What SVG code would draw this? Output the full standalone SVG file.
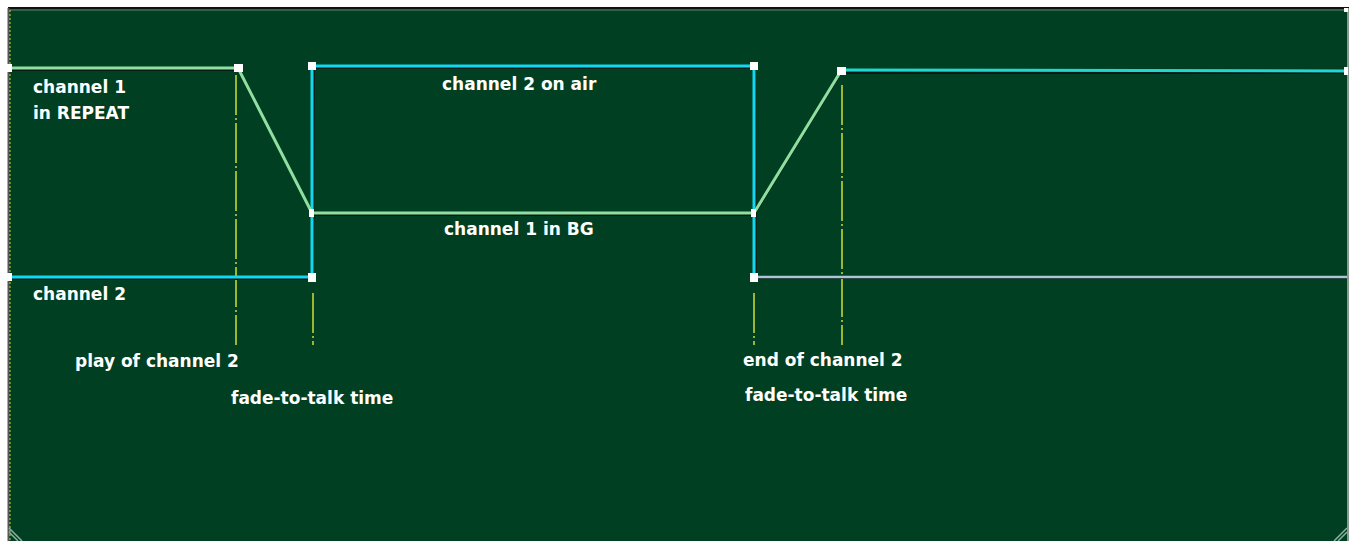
<svg xmlns="http://www.w3.org/2000/svg" width="1357" height="541" viewBox="0 0 1357 541">
<style>
.lbl{font-family:"DejaVu Sans","Liberation Sans",sans-serif;font-weight:bold;font-size:17px;fill:#ffffff}
.c1{fill:none;stroke:#8fe0a0;stroke-width:3}
.c2{fill:none;stroke:#10d8f0;stroke-width:3}
.sh{fill:none;stroke:#0a1a14;stroke-width:2}
.mark{stroke:#d0e030;stroke-width:1.5;stroke-dasharray:40,3,2,3}
.nd{fill:#ffffff}
</style>
<rect x="0" y="0" width="1357" height="541" fill="#ffffff"/>
<rect x="8" y="8" width="1341" height="533" fill="#003f22"/>
<line x1="8" y1="8" x2="1349" y2="8" stroke="#111" stroke-width="2"/>
<line x1="8" y1="10" x2="1347" y2="10" stroke="#5a8a70" stroke-width="1"/>
<line x1="8.5" y1="8" x2="8.5" y2="541" stroke="#555" stroke-width="2"/>
<line x1="10" y1="10" x2="10" y2="541" stroke="#c8dc30" stroke-width="1" stroke-dasharray="2,2"/>
<line x1="1348" y1="8" x2="1348" y2="541" stroke="#8a9a90" stroke-width="2"/>
<path d="M9,528 L22,541 M9,532 L18,541" stroke="#8ab0a0" stroke-width="1.5"/>
<path d="M1347,528 L1334,541 M1347,532 L1338,541" stroke="#8ab0a0" stroke-width="1.5"/>
<g id="connectors">
<g id="markers">
<line class="mark" x1="236" y1="75" x2="236" y2="345"/>
<line class="mark" x1="313" y1="293" x2="313" y2="345"/>
<line class="mark" x1="754" y1="293" x2="754" y2="345"/>
<line class="mark" x1="842" y1="85" x2="842" y2="345"/>
</g>
<polyline class="sh" points="9,279 313,279 314,68 755,68 756,278"/>
<polyline class="c2" points="9,277 312,277 312,66 754,66 754,277"/>
<line x1="754" y1="278" x2="1347" y2="278" stroke="#0a1a14" stroke-width="2"/>
<line x1="754" y1="277" x2="1347" y2="277" stroke="#a8c8d8" stroke-width="2.5"/>
<polyline class="sh" points="9,70 238,70 313,215 754,215 841,73 1347,73"/>
<polyline class="c1" points="9,68 238,68 312,213 754,213 841,71"/>
<line x1="841" y1="70" x2="1347" y2="71" stroke="#20d8d0" stroke-width="3"/>
</g>
<g id="nodes">
<rect class="nd" x="5" y="64" width="7" height="8"/>
<rect class="nd" x="5" y="273" width="7" height="8"/>
<rect class="nd" x="234" y="64" width="9" height="8"/>
<rect class="nd" x="308" y="62" width="8" height="8"/>
<rect class="nd" x="308" y="273" width="8" height="9"/>
<rect class="nd" x="309" y="209" width="5" height="8"/>
<rect class="nd" x="750" y="62" width="8" height="8"/>
<rect class="nd" x="750" y="273" width="8" height="9"/>
<rect class="nd" x="751" y="209" width="5" height="8"/>
<rect class="nd" x="837" y="67" width="9" height="8"/>
<rect class="nd" x="1344" y="67" width="4" height="8"/>
<rect class="nd" x="1344" y="8" width="4" height="4"/>
</g>
<g id="labels">
<text class="lbl" x="33" y="93">channel 1</text>
<text class="lbl" x="33" y="119">in REPEAT</text>
<text class="lbl" x="442" y="90">channel 2 on air</text>
<text class="lbl" x="444" y="235">channel 1 in BG</text>
<text class="lbl" x="33" y="300">channel 2</text>
<text class="lbl" x="75" y="367">play of channel 2</text>
<text class="lbl" x="231" y="404">fade-to-talk time</text>
<text class="lbl" x="743" y="366">end of channel 2</text>
<text class="lbl" x="745" y="401">fade-to-talk time</text>
</g>
</svg>
